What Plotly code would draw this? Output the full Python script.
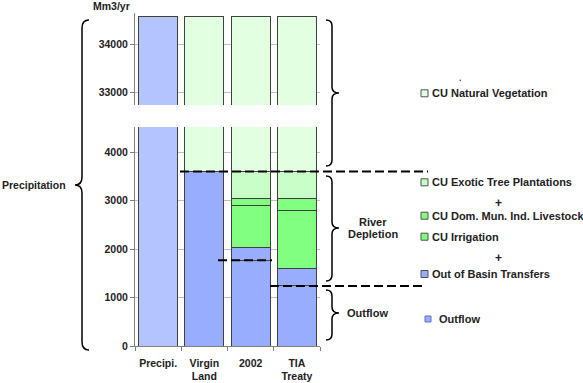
import plotly.graph_objects as go

# ---------------- data ----------------
categories = ["Precipi.", "Virgin<br>Land", "2002", "TIA<br>Treaty"]
precipitation = [34580, None, None, None]
outflow = [None, 3600, 1770, 1240]
out_of_basin = [None, None, 260, 360]
cu_irrigation = [None, None, 870, 1200]
cu_dom = [None, None, 150, 250]
cu_exotic = [None, None, 550, 550]
cu_natural = [None, 30980, 30980, 30980]

lower_ticks = [0, 1000, 2000, 3000, 4000]
upper_ticks = [33000, 34000]
lower_range = [0, 4521]
upper_range = [32746, 34647]

depletion_top = 3600      # dashed line: end of natural vegetation
outflow_2002 = 1770       # dashed line 2002 outflow
outflow_tia = 1240        # dashed line TIA outflow

C_PRECIP = "#b3c4ff"
C_BLUE = "#99adff"
C_NAT = "#e2ffe2"
C_EXO = "#c8ffc8"
C_IRR = "#80ff80"
EDGE = "#404040"
TXT = "#222222"
FONT = "Liberation Sans"

series = [
    ("Precipitation", precipitation, C_PRECIP),
    ("Outflow", outflow, C_BLUE),
    ("Out of Basin Transfers", out_of_basin, C_BLUE),
    ("CU Irrigation", cu_irrigation, C_IRR),
    ("CU Dom. Mun. Ind. Livestock", cu_dom, C_IRR),
    ("CU Exotic Tree Plantations", cu_exotic, C_EXO),
    ("CU Natural Vegetation", cu_natural, C_NAT),
]

fig = go.Figure()
for yax in ["y", "y2"]:
    for name, vals, col in series:
        fig.add_trace(go.Bar(
            x=categories, y=vals, name=name, xaxis="x", yaxis=yax,
            marker=dict(color=col, line=dict(color=EDGE, width=1)),
            showlegend=False,
        ))

# pixel -> paper helpers (plot area: x 135..320, y 13..346)
L, R, T, B = 135, 320, 13, 346
def px(x):
    return (x - L) / (R - L)
def py(y):
    return (B - y) / (B - T)

axis_common = dict(
    showline=True, linecolor="#808080", linewidth=1,
    ticks="outside", ticklen=4, tickcolor="#808080",
    showgrid=True, gridcolor="#c0c0c0", gridwidth=1,
    zeroline=False, tickformat="d", automargin=False,
    tickfont=dict(family=FONT, size=10.5, color=TXT, weight="bold"),
)

fig.update_layout(
    width=583, height=383,
    margin=dict(l=L, r=583 - R, t=T, b=383 - B, pad=0),
    paper_bgcolor="white", plot_bgcolor="white",
    barmode="stack", bargap=0.157,
    showlegend=False,
    xaxis=dict(
        anchor="y", showline=True, linecolor="#808080", linewidth=1,
        ticks="outside", ticklen=4, tickcolor="#808080", tickson="boundaries",
        showgrid=False, ticklabelstandoff=7, tickangle=0, automargin=False,
        tickfont=dict(family=FONT, size=10.5, color=TXT, weight="bold"),
    ),
    yaxis=dict(domain=[0, py(127)], range=lower_range, tickvals=lower_ticks,
               anchor="x", **axis_common),
    yaxis2=dict(domain=[py(105), 1], range=upper_range, tickvals=upper_ticks,
                anchor="x", **axis_common),
)

shapes = []

def brace(x_end, x_mid, x_tip, y_top, y_tip, y_bot, r=6):
    pts = [
        ("M", [(x_end, y_top)]),
        ("Q", [(x_mid, y_top), (x_mid, y_top + r)]),
        ("L", [(x_mid, y_tip - r)]),
        ("Q", [(x_mid, y_tip), (x_tip, y_tip)]),
        ("Q", [(x_mid, y_tip), (x_mid, y_tip + r)]),
        ("L", [(x_mid, y_bot - r)]),
        ("Q", [(x_mid, y_bot), (x_end, y_bot)]),
    ]
    s = ""
    for cmd, ps in pts:
        s += cmd + " " + " ".join(f"{px(a):.5f},{py(b):.5f}" for a, b in ps) + " "
    return dict(type="path", path=s.strip(), xref="paper", yref="paper",
                line=dict(color="black", width=1.5))

shapes.append(brace(326, 332, 339, 20, 93, 166))
shapes.append(brace(326, 332, 339, 176, 228, 281))
shapes.append(brace(326, 332, 339, 290, 313, 340))
shapes.append(brace(89, 82, 75, 20, 185, 350, r=8))

def dashed(x0, x1, val):
    return dict(type="line", xref="paper", yref="y", x0=px(x0), x1=px(x1),
                y0=val, y1=val, line=dict(color="black", width=2, dash="9px,4px"))

shapes.append(dashed(180, 428, depletion_top))
shapes.append(dashed(218, 272, outflow_2002))
shapes.append(dashed(270, 423, outflow_tia))

# legend boxes
legend_items = [
    ("CU Natural Vegetation", C_NAT, 93.3),
    ("CU Exotic Tree Plantations", C_EXO, 182.3),
    ("CU Dom. Mun. Ind. Livestock", C_IRR, 215.7),
    ("CU Irrigation", C_IRR, 236.7),
    ("Out of Basin Transfers", C_BLUE, 274),
]
for _, col, yy in legend_items:
    shapes.append(dict(type="rect", xref="paper", yref="paper",
                       x0=px(421), x1=px(428), y0=py(yy - 3.5), y1=py(yy + 3.5),
                       fillcolor=col, line=dict(color="#505050", width=1)))
shapes.append(dict(type="rect", xref="paper", yref="paper",
                   x0=px(425), x1=px(431), y0=py(316), y1=py(322),
                   fillcolor=C_BLUE, line=dict(color="#6070c0", width=1)))
shapes.append(dict(type="circle", xref="paper", yref="paper",
                   x0=px(459.5), x1=px(461), y0=py(79.5), y1=py(81),
                   fillcolor="#333", line=dict(width=0)))
fig.update_layout(shapes=shapes)

def ann(text, x, y, size=11, xanchor="center"):
    return dict(text=text, x=px(x), y=py(y), xref="paper", yref="paper",
                xanchor=xanchor, yanchor="middle", showarrow=False,
                font=dict(family=FONT, size=size, color=TXT, weight="bold"))

anns = [
    ann("Mm3/yr", 111, 6, size=10.5),
    ann("Precipitation", 0, 185, size=10.5, xanchor="left"),
    ann("River", 373, 221.7),
    ann("Depletion", 373, 234.3),
    ann("Outflow", 367, 313),
    ann("+", 498, 202.7, size=12),
    ann("+", 498, 258.3, size=12),
    ann("Outflow", 437, 319, xanchor="left"),
]
for txt, _, yy in legend_items:
    anns.append(ann(txt, 430, yy, xanchor="left"))
fig.update_layout(annotations=anns)

fig.write_html("out.html")
